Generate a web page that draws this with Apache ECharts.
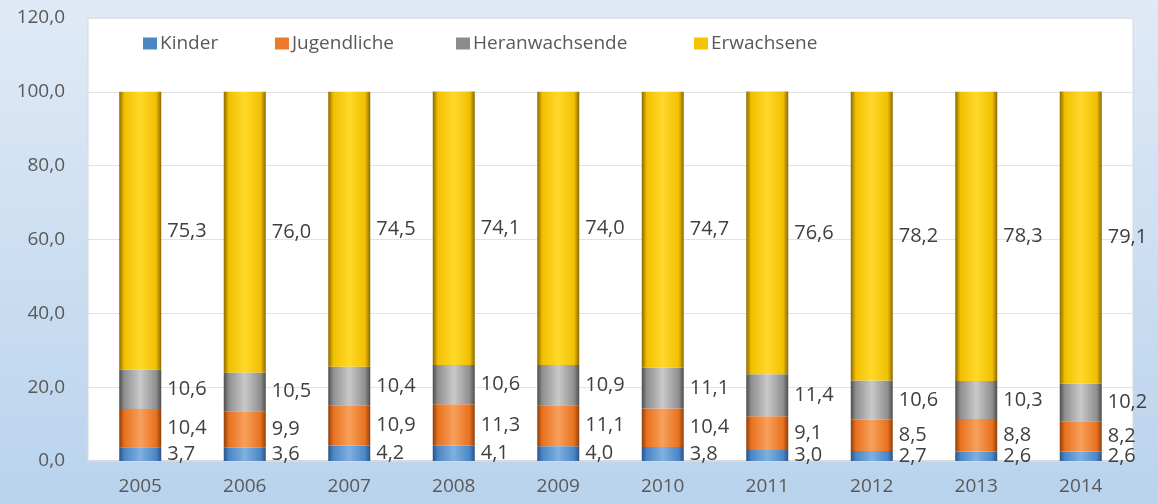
<!DOCTYPE html>
<html>
<head>
<meta charset="utf-8">
<script src="https://cdn.jsdelivr.net/npm/echarts@6/dist/echarts.min.js"></script>
<style>
  html, body { margin: 0; padding: 0; }
  #chart { width: 1158px; height: 504px; }
</style>
</head>
<body>
<div id="chart"></div>
<script>
const years = ['2005', '2006', '2007', '2008', '2009', '2010', '2011', '2012', '2013', '2014']
const kinder = [3.7, 3.6, 4.2, 4.1, 4.0, 3.8, 3.0, 2.7, 2.6, 2.6]
const jugendliche = [10.4, 9.9, 10.9, 11.3, 11.1, 10.4, 9.1, 8.5, 8.8, 8.2]
const heranwachsende = [10.6, 10.5, 10.4, 10.6, 10.9, 11.1, 11.4, 10.6, 10.3, 10.2]
const erwachsene = [75.3, 76.0, 74.5, 74.1, 74.0, 74.7, 76.6, 78.2, 78.3, 79.1]
const yTicks = [0, 20, 40, 60, 80, 100, 120]

const font = 'Open Sans, Lato, sans-serif'
const fmt = v => v.toFixed(1).replace('.', ',')

function bevel (dark, mid, light) {
    return new echarts.graphic.LinearGradient(0, 0, 1, 0, [
        { offset: 0, color: dark },
        { offset: 0.12, color: mid },
        { offset: 0.5, color: light },
        { offset: 0.88, color: mid },
        { offset: 1, color: dark }
    ])
}

const seriesDefs = [
    { name: 'Kinder', data: kinder, color: '#4a86c5', fill: bevel('#2a5384', '#4a86c5', '#7fb0e0') },
    { name: 'Jugendliche', data: jugendliche, color: '#ec7a2c', fill: bevel('#8f3f0c', '#e8711e', '#f7a05c') },
    { name: 'Heranwachsende', data: heranwachsende, color: '#8c8c8c', fill: bevel('#4d4d4d', '#8f8f8f', '#c9c9c9') },
    { name: 'Erwachsene', data: erwachsene, color: '#f5c400', fill: bevel('#8a6a00', '#f2bf00', '#ffd92a') }
]

const legendLeft = [138, 270, 451, 689]

const chart = echarts.init(document.getElementById('chart'))

const option = {
    backgroundColor: new echarts.graphic.LinearGradient(0, 0, 0, 1, [
        { offset: 0, color: '#e0eaf6' },
        { offset: 1, color: '#b9d3ed' }
    ]),
    animation: false,
    legend: seriesDefs.map((s, i) => ({
        data: [{ name: s.name, itemStyle: { color: s.color } }],
        left: legendLeft[i],
        top: 29,
        icon: 'rect',
        itemWidth: 14,
        itemHeight: 12,
        itemGap: 4,
        textStyle: { color: '#595959', fontSize: 19, fontFamily: font, padding: [0, 0, 0, -2] }
    })),
    grid: {
        left: 88,
        right: 25,
        top: 18,
        bottom: 43,
        show: true,
        backgroundColor: '#ffffff',
        borderColor: '#d9d9d9',
        borderWidth: 1
    },
    xAxis: {
        type: 'category',
        data: years,
        axisLine: { show: true, lineStyle: { color: '#d9d9d9', width: 2 } },
        axisTick: { show: false },
        axisLabel: { color: '#595959', fontSize: 19, fontFamily: font, margin: 16 }
    },
    yAxis: {
        type: 'value',
        min: yTicks[0],
        max: yTicks[yTicks.length - 1],
        interval: 20,
        axisLine: { show: false },
        axisTick: { show: false },
        splitLine: { lineStyle: { color: '#e3e3e3' } },
        axisLabel: {
            color: '#595959',
            fontSize: 19,
            fontFamily: font,
            margin: 23,
            formatter: v => fmt(v)
        }
    },
    series: seriesDefs.map(s => ({
        name: s.name,
        type: 'bar',
        stack: 'total',
        data: s.data,
        barWidth: 42,
        itemStyle: { color: s.fill },
        label: {
            show: true,
            position: 'right',
            distance: 6,
            color: '#404040',
            fontSize: 20,
            fontFamily: font,
            formatter: p => fmt(p.value)
        }
    }))
}

chart.setOption(option)
</script>
</body>
</html>
